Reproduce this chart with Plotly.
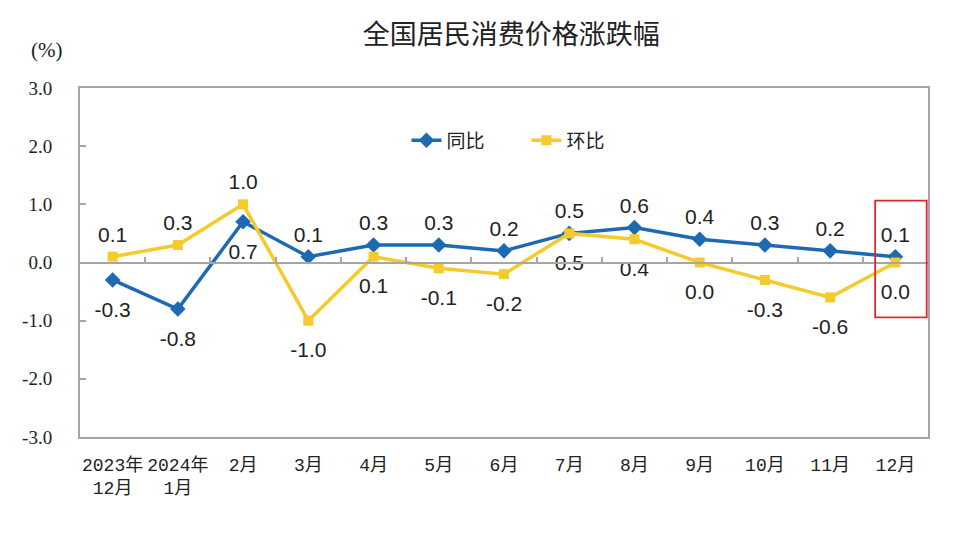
import plotly.graph_objects as go

categories = ["2023年<br>12月", "2024年<br>1月", "2月", "3月", "4月", "5月", "6月",
              "7月", "8月", "9月", "10月", "11月", "12月"]
yoy = [-0.3, -0.8, 0.7, 0.1, 0.3, 0.3, 0.2, 0.5, 0.6, 0.4, 0.3, 0.2, 0.1]
mom = [0.1, 0.3, 1.0, -1.0, 0.1, -0.1, -0.2, 0.5, 0.4, 0.0, -0.3, -0.6, 0.0]
yoy_pos = ["bottom center", "bottom center", "bottom center"] + ["top center"] * 10
mom_pos = ["top center", "top center", "top center"] + ["bottom center"] * 10
y_ticks = [-3, -2, -1, 0, 1, 2, 3]

xs = list(range(len(categories)))
BLUE = "#1D69B2"
YELLOW = "#F4CA2C"
label_font = dict(family="Liberation Sans, Arial", size=21, color="#222222")

fig = go.Figure()
fig.add_trace(go.Scatter(
    x=xs, y=yoy, name="同比", mode="lines+markers",
    line=dict(color=BLUE, width=3.5),
    marker=dict(symbol="diamond", size=12, color=BLUE),
))
fig.add_trace(go.Scatter(
    x=xs, y=mom, name="环比", mode="lines+markers",
    line=dict(color=YELLOW, width=3.5),
    marker=dict(symbol="square", size=10, color=YELLOW),
))
# data labels (invisible markers set the label offset from each point)
for vals, pos in ((yoy, yoy_pos), (mom, mom_pos)):
    fig.add_trace(go.Scatter(
        x=xs, y=vals, mode="markers+text", showlegend=False, hoverinfo="skip",
        marker=dict(size=[14 if p.startswith("top") else 32 for p in pos], opacity=0),
        text=[f"{v:.1f}" for v in vals], textposition=pos, textfont=label_font,
        cliponaxis=False,
    ))
# invisible trace to carry the zero-line axis ticks
fig.add_trace(go.Scatter(x=[xs[0]], y=[0], xaxis="x2", mode="markers",
                         marker=dict(opacity=0), showlegend=False, hoverinfo="skip"))

fig.update_layout(
    width=953, height=536,
    margin=dict(l=72, r=33, t=80, b=107),
    paper_bgcolor="white", plot_bgcolor="white",
    title=dict(text="全国居民消费价格涨跌幅", x=0.528, xanchor="center", y=0.95, yanchor="middle",
               font=dict(family="Noto Sans CJK SC", size=27, color="#222222")),
    showlegend=True,
    legend=dict(orientation="h", x=0.385, xanchor="left", y=0.85, yanchor="middle",
                font=dict(family="Noto Sans CJK SC", size=19, color="#222222"),
                bgcolor="rgba(0,0,0,0)", entrywidth=75, entrywidthmode="pixels"),
    xaxis=dict(range=[-0.5, 12.5], tickmode="array", tickvals=xs, ticktext=categories,
               showgrid=False, zeroline=False, showline=True, linecolor="#A6A6A6", linewidth=2,
               mirror=True, ticks="", ticklabelstandoff=10, tickangle=0,
               tickfont=dict(family="Liberation Mono, Noto Sans CJK SC", size=18, color="#222222")),
    xaxis2=dict(range=[-0.5, 12.5], overlaying="x", anchor="free", position=0.5, side="bottom",
                tickmode="array", tickvals=[i + 0.5 for i in xs[:-1]], ticks="inside",
                ticklen=5, tickwidth=1.5, tickcolor="#A6A6A6", showticklabels=False,
                showline=True, linecolor="#A6A6A6", linewidth=2, showgrid=False, zeroline=False),
    yaxis=dict(range=[-3, 3], tickmode="array", tickvals=y_ticks,
               ticktext=[f"{v:.1f}" for v in y_ticks],
               showgrid=False, zeroline=False, showline=True, linecolor="#A6A6A6", linewidth=2,
               mirror=True, ticks="inside", ticklen=6, tickwidth=1.5, tickcolor="#A6A6A6",
               ticklabelstandoff=22,
               tickfont=dict(family="Liberation Serif, Times New Roman", size=19, color="#222222")),
    annotations=[dict(text="(%)", xref="paper", yref="paper", x=-0.040, y=1.109,
                      xanchor="center", yanchor="middle", showarrow=False,
                      font=dict(family="Liberation Serif, Times New Roman", size=21, color="#222222"))],
    shapes=[dict(type="rect", xref="x", yref="y", x0=11.69, x1=12.48, y0=-0.945, y1=1.065,
                 line=dict(color="#E0262B", width=1.8), fillcolor="rgba(0,0,0,0)")],
)

fig.write_html("out.html")
